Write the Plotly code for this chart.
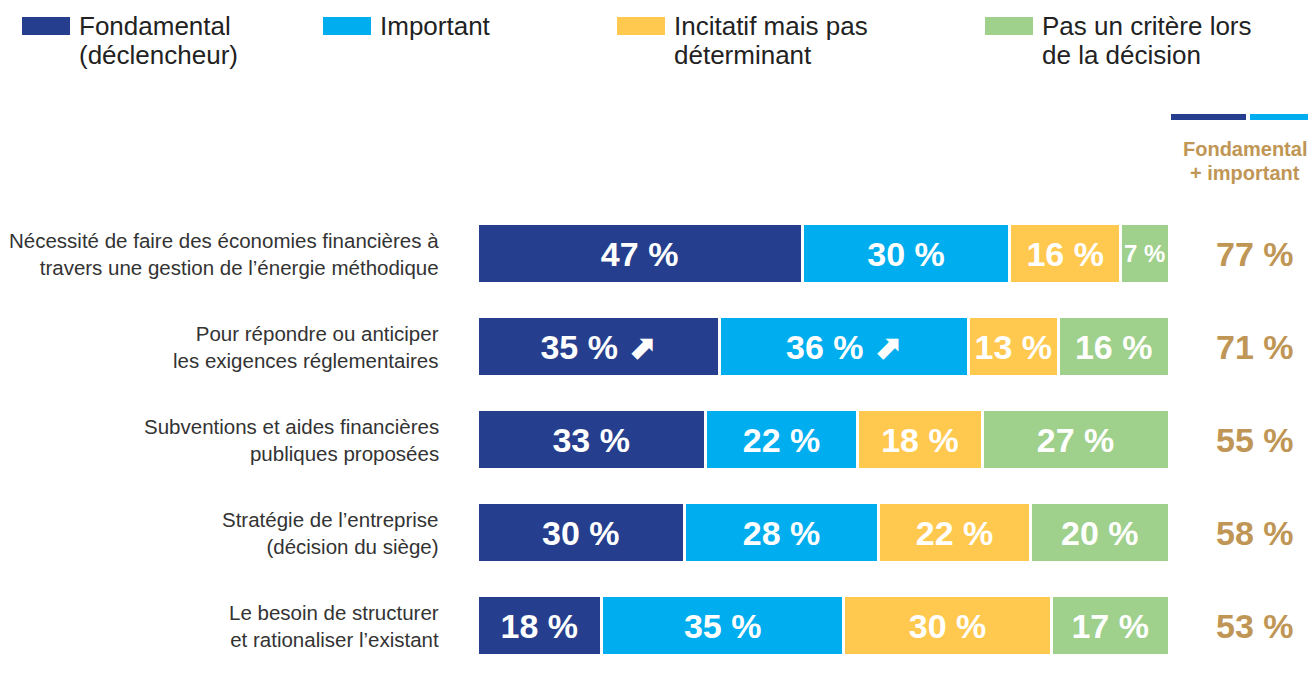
import plotly.graph_objects as go

# data
categories = [
    "Nécessité de faire des économies financières à<br>travers une gestion de l’énergie méthodique",
    "Pour répondre ou anticiper<br>les exigences réglementaires",
    "Subventions et aides financières<br>publiques proposées",
    "Stratégie de l’entreprise<br>(décision du siège)",
    "Le besoin de structurer<br>et rationaliser l’existant",
]
series_names = [["Fondamental", "(déclencheur)"], ["Important"],
                ["Incitatif mais pas", "déterminant"], ["Pas un critère lors", "de la décision"]]
fondamental = [47, 35, 33, 30, 18]
important = [30, 36, 22, 28, 35]
incitatif = [16, 13, 18, 22, 30]
pas_critere = [7, 16, 27, 20, 17]
trend_up = [False, True, False, False, False]  # arrow shown for row 2 (fondamental + important)
totals = [77, 71, 55, 58, 53]

colors = ["#253F8E", "#00AEEF", "#FFC94F", "#9FD08C"]
gold = "#BF9655"

# page adds an 8px body margin, so work in reference pixels and shift
OFF = 8
W, H = 1316 - OFF, 690 - OFF - 8
ML = 477 - OFF
MR = W - (1169 - OFF)
MT = 207 - OFF
MB = H - (672 - OFF)


def px_x(x):
    return (x - OFF - ML) / (W - ML - MR)


def px_y(y):
    return (H - MB - (y - OFF)) / (H - MT - MB)


fig = go.Figure()
all_series = [fondamental, important, incitatif, pas_critere]
for i, vals in enumerate(all_series):
    labels = []
    sizes = []
    for j, v in enumerate(vals):
        t = f"{v} %"
        if i < 2 and trend_up[j]:
            t += " ⬈"
        labels.append(t)
        sizes.append(24 if v < 10 else 34)
    fig.add_trace(go.Bar(
        x=vals, y=categories, orientation="h", name=" ".join(series_names[i]),
        marker=dict(color=colors[i], line=dict(color="white", width=3)),
        text=labels, textposition="inside", insidetextanchor="middle",
        textfont=dict(color="white", size=sizes, family="Liberation Sans, DejaVu Sans", weight="bold"),
        hoverinfo="skip", showlegend=False,
    ))

fig.update_layout(
    barmode="stack", bargap=0.36,
    width=W, height=H,
    margin=dict(l=ML, r=MR, t=MT, b=MB),
    plot_bgcolor="white", paper_bgcolor="white",
    font=dict(family="Liberation Sans", color="#333333"),
    xaxis=dict(range=[0, 100], visible=False, fixedrange=True),
    yaxis=dict(categoryorder="array", categoryarray=categories[::-1],
               showticklabels=False, showgrid=False, zeroline=False),
)

# category labels
for c in categories:
    fig.add_annotation(x=px_x(441), xref="paper", y=c, yref="y", text=c,
                       showarrow=False, xanchor="right", align="right",
                       font=dict(size=20.5, color="#333333"))

# totals column
for c, t in zip(categories, totals):
    fig.add_annotation(x=px_x(1255), xref="paper", y=c, yref="y", text=f"{t} %",
                       showarrow=False, xanchor="center",
                       font=dict(size=34, color=gold, weight="bold"))

# header for totals column
fig.add_shape(type="rect", xref="paper", yref="paper",
              x0=px_x(1171), x1=px_x(1246), y0=px_y(120), y1=px_y(114),
              fillcolor=colors[0], line_width=0)
fig.add_shape(type="rect", xref="paper", yref="paper",
              x0=px_x(1250), x1=px_x(1316), y0=px_y(120), y1=px_y(114),
              fillcolor=colors[1], line_width=0)
for k, line in enumerate(["Fondamental", "+ important"]):
    fig.add_annotation(x=px_x(1245), xref="paper", y=px_y(149 + 24 * k), yref="paper",
                       text=line, showarrow=False,
                       xanchor="center", yanchor="middle",
                       font=dict(size=20, color=gold, weight="bold"))

# custom legend
legend_sq = [22, 323, 617, 985]
for i, x0 in enumerate(legend_sq):
    fig.add_shape(type="rect", xref="paper", yref="paper",
                  x0=px_x(x0), x1=px_x(x0 + 48), y0=px_y(35), y1=px_y(17),
                  fillcolor=colors[i], line_width=0)
    for k, line in enumerate(series_names[i]):
        fig.add_annotation(x=px_x(x0 + 55), xref="paper", y=px_y(26 + 29 * k), yref="paper",
                           text=line, showarrow=False,
                           xanchor="left", yanchor="middle",
                           font=dict(size=26, color="#222222"))

fig.write_html("out.html")
